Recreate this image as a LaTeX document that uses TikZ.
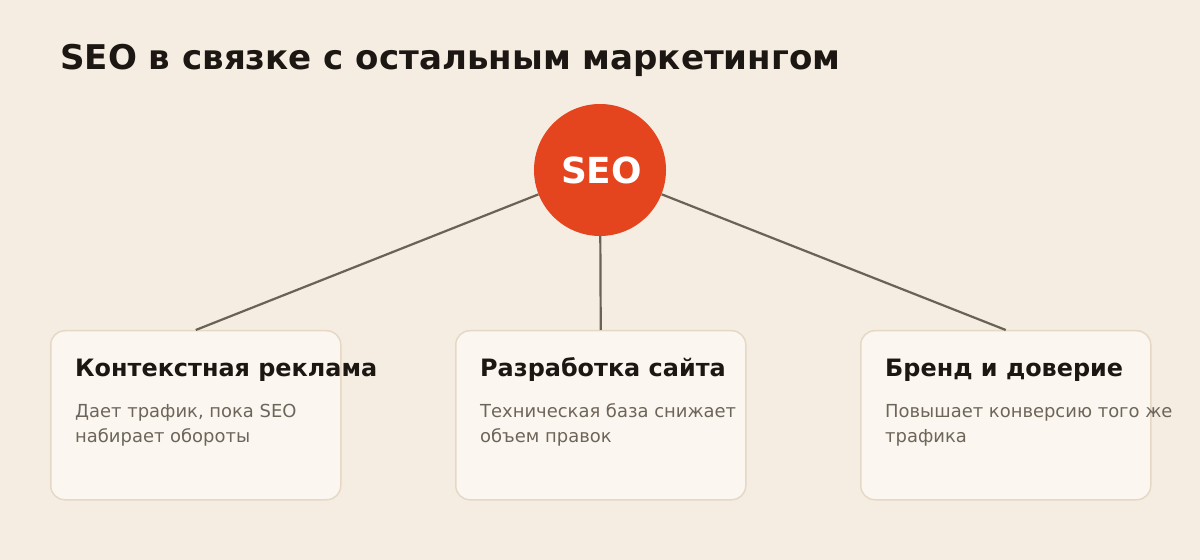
\documentclass[tikz,border=0pt]{standalone}
\usepackage{fontspec}
\setmainfont{DejaVu Sans}
\definecolor{paper}{HTML}{F5EDE2}
\definecolor{card}{HTML}{FBF7F0}
\definecolor{cardline}{HTML}{E5D9C6}
\definecolor{wire}{HTML}{6B6155}
\definecolor{brick}{HTML}{E4441E}
\definecolor{ink}{HTML}{1C1712}
\definecolor{muted}{HTML}{6E655A}
\tikzstyle{card} = [draw=cardline, line width=1.5bp, fill=card, rounded corners=14bp,
  minimum width=290bp, minimum height=169bp, anchor=north west, inner sep=0pt]
\tikzstyle{head} = [anchor=base west, inner sep=0pt, text=ink,
  font=\bfseries\fontsize{24}{28}\selectfont]
\tikzstyle{note} = [anchor=base west, inner sep=0pt, text=muted, align=left,
  font=\fontsize{18}{24.1}\selectfont]

\begin{document}
\begin{tikzpicture}[
  x=1bp, y=-1bp,
  wire/.style={draw=wire, line width=2.2bp},
]
\useasboundingbox[fill=paper] (0,0) rectangle (1200,560);
\node[anchor=base west, inner sep=0pt, text=ink, font=\bfseries\fontsize{34.2}{40}\selectfont]
  (title) at (60,70) {SEO в связке с остальным маркетингом};

% cards
\node[card] (ads) at (50,330) {};
\node[card] (dev) at (455,330) {};
\node[card] (brand) at (860,330) {};

% hub
\node[circle, fill=brick, minimum size=132bp, inner sep=0pt, text=white,
  font=\bfseries\fontsize{36}{40}\selectfont] (seo) at (600,170) {\hspace{3bp}SEO};

\draw[wire] (seo) -- (ads.north);
\draw[wire] (seo) -- (dev.north);
\draw[wire] (seo) -- (brand.north);

\node[head] (adshead) at (75,377) {Контекстная реклама};
\node[note] (adsnote) at (75,442) {Дает трафик, пока SEO\\набирает обороты};
\node[head] (devhead) at (480,377) {Разработка сайта};
\node[note] (devnote) at (480,442) {Техническая база снижает\\объем правок};
\node[head] (brandhead) at (885,377) {Бренд и доверие};
\node[note] (brandnote) at (885,442) {Повышает конверсию того же\\трафика};
\end{tikzpicture}
\end{document}
